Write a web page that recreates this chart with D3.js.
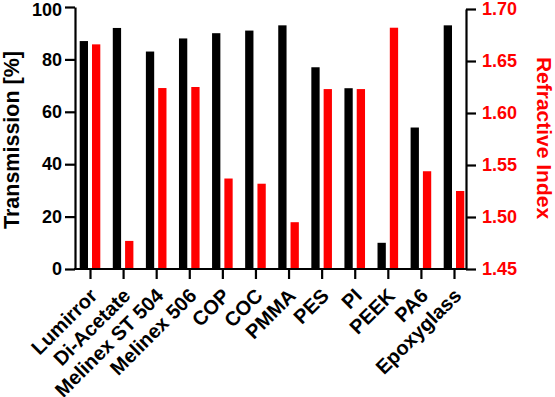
<!DOCTYPE html>
<html lang="en">
<head>
    <meta charset="UTF-8">
    <title>Transmission and refractive index</title>
    <script src="https://cdn.jsdelivr.net/npm/d3@7"></script>
    <style>
        body { margin: 0; background: #fff; }
        text { font-family: "Liberation Sans", Arial, sans-serif; font-weight: bold; }
    </style>
</head>
<body>
    <svg id="svg"></svg>
    <script>
        const categories = ['Lumirror', 'Di-Acetate', 'Melinex ST 504', 'Melinex 506', 'COP', 'COC',
            'PMMA', 'PES', 'PI', 'PEEK', 'PA6', 'Epoxyglass'];
        const transmission = [87, 92, 83, 88, 90, 91, 93, 77, 69, 10, 54, 93];
        const refractiveIndex = [1.666, 1.477, 1.624, 1.625, 1.537, 1.532, 1.495, 1.623, 1.623, 1.682, 1.544, 1.525];
        const leftTicks = [0, 20, 40, 60, 80, 100];
        const rightTicks = [1.45, 1.50, 1.55, 1.60, 1.65, 1.70];

        const width = 555;
        const height = 397;
        const x0 = 75, x1 = 466, yBase = 269;

        const svg = d3.select('#svg')
            .attr('width', width)
            .attr('height', height);

        const x = d3.scalePoint()
            .domain(categories)
            .range([90, 454]);
        const yLeft = d3.scaleLinear().domain([0, 100]).range([yBase, 7]);
        const yRight = d3.scaleLinear().domain([1.45, 1.70]).range([yBase, 9]);

        const barW = 8.3, gap = 2;

        // bars
        svg.append('g').selectAll('rect')
            .data(categories)
            .enter()
            .append('rect')
            .attr('x', d => x(d) - gap - barW)
            .attr('width', barW)
            .attr('y', (d, i) => yLeft(transmission[i]))
            .attr('height', (d, i) => yBase - yLeft(transmission[i]))
            .attr('fill', '#000');

        svg.append('g').selectAll('rect')
            .data(categories)
            .enter()
            .append('rect')
            .attr('x', d => x(d) + gap)
            .attr('width', barW)
            .attr('y', (d, i) => yRight(refractiveIndex[i]))
            .attr('height', (d, i) => yBase - yRight(refractiveIndex[i]))
            .attr('fill', '#ff0000');

        // left axis
        const gl = svg.append('g')
            .attr('transform', `translate(${x0},0)`)
            .call(d3.axisLeft(yLeft).tickValues(leftTicks).tickSize(10).tickPadding(3).tickSizeOuter(0));
        gl.select('.domain').attr('stroke-width', 2.2);
        gl.selectAll('.tick line').attr('stroke-width', 2.2);
        gl.selectAll('.tick text').attr('font-size', 18).attr('fill', '#000')
            .style('font-family', '"Liberation Sans", Arial, sans-serif')
            .attr('y', d => d === 100 ? 2.5 : 0);

        // right axis
        const gr = svg.append('g')
            .attr('transform', `translate(${x1},0)`)
            .call(d3.axisRight(yRight).tickValues(rightTicks).tickFormat(d3.format('.2f'))
                .tickSize(10).tickPadding(6).tickSizeOuter(0));
        gr.select('.domain').attr('stroke-width', 2.2);
        gr.selectAll('.tick line').attr('stroke-width', 2.2);
        gr.selectAll('.tick text').attr('font-size', 18).attr('fill', '#ff0000')
            .style('font-family', '"Liberation Sans", Arial, sans-serif');

        // bottom axis
        svg.append('line')
            .attr('x1', x0 - 1).attr('x2', x1 + 1)
            .attr('y1', yBase).attr('y2', yBase)
            .attr('stroke', '#000').attr('stroke-width', 2.2);
        const gb = svg.append('g')
            .attr('transform', `translate(0,${yBase})`)
            .call(d3.axisBottom(x).tickSize(10).tickSizeOuter(0));
        gb.select('.domain').remove();
        gb.selectAll('.tick line').attr('stroke-width', 2.2);
        gb.selectAll('.tick text')
            .attr('font-size', 20)
            .attr('fill', '#000')
            .style('font-family', '"Liberation Sans", Arial, sans-serif')
            .attr('text-anchor', 'end')
            .attr('y', 0)
            .attr('dy', 0)
            .attr('transform', 'translate(8,28) rotate(-45)');

        // axis titles
        svg.append('text')
            .attr('transform', 'translate(19,140) rotate(-90)')
            .attr('text-anchor', 'middle')
            .attr('font-size', 21.5)
            .text('Transmission [%]');

        svg.append('text')
            .attr('transform', 'translate(537,138) rotate(90)')
            .attr('text-anchor', 'middle')
            .attr('font-size', 21)
            .attr('fill', '#ff0000')
            .text('Refractive Index');
    </script>
</body>
</html>
